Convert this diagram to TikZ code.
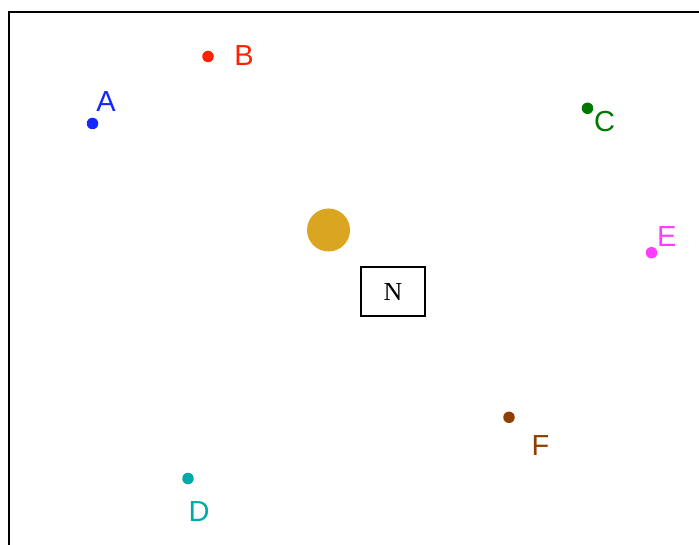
\documentclass[tikz,border=0pt]{standalone}
\usepackage{fontspec}
\setmainfont{Liberation Serif}
\newfontfamily\labelfont{Liberation Sans}
\definecolor{ptA}{RGB}{20,40,255}
\definecolor{ptB}{RGB}{255,34,0}
\definecolor{ptC}{RGB}{0,120,0}
\definecolor{ptD}{RGB}{0,170,170}
\definecolor{ptE}{RGB}{255,60,255}
\definecolor{ptF}{RGB}{139,64,0}
\definecolor{sun}{RGB}{218,165,32}
\begin{document}
\begin{tikzpicture}[x=1pt,y=-1pt,
  dot/.style={circle,fill=#1,draw=none,inner sep=0pt,minimum size=11.5pt},
  lbl/.style={text=#1,inner sep=0pt,font=\labelfont\fontsize{29}{29}\selectfont},
  nbox/.style={draw,line width=1.6pt,minimum width=64pt,minimum height=49pt,inner sep=0pt,font=\fontsize{26}{26}\selectfont}]
\useasboundingbox (0,0) rectangle (699,545);
% frame (only its top and left sides fall on the page)
\draw[line width=2.8pt] (9,560) -- (9,12) -- (720,12);
% central disc and box
\node[circle,fill=sun,inner sep=0pt,minimum size=43pt] (sun) at (328.5,230) {};
\node[nbox] (N) at (393,291.5) {N};
% points and their labels
\node[dot=ptA] (a) at (92.5,123.5) {};
\node[lbl=ptA] (la) at (106,101.5) {A};
\node[dot=ptB] (b) at (208,56.5) {};
\node[lbl=ptB] (lb) at (244,56) {B};
\node[dot=ptC] (c) at (587.5,108.3) {};
\node[lbl=ptC] (lc) at (604.7,121.5) {C};
\node[dot=ptD] (d) at (188,478.5) {};
\node[lbl=ptD] (ld) at (199,512) {D};
\node[dot=ptE] (e) at (651.5,252.7) {};
\node[lbl=ptE] (le) at (666.7,236.3) {E};
\node[dot=ptF] (f) at (509,417.3) {};
\node[lbl=ptF] (lf) at (540.5,445.5) {F};
\end{tikzpicture}
\end{document}
